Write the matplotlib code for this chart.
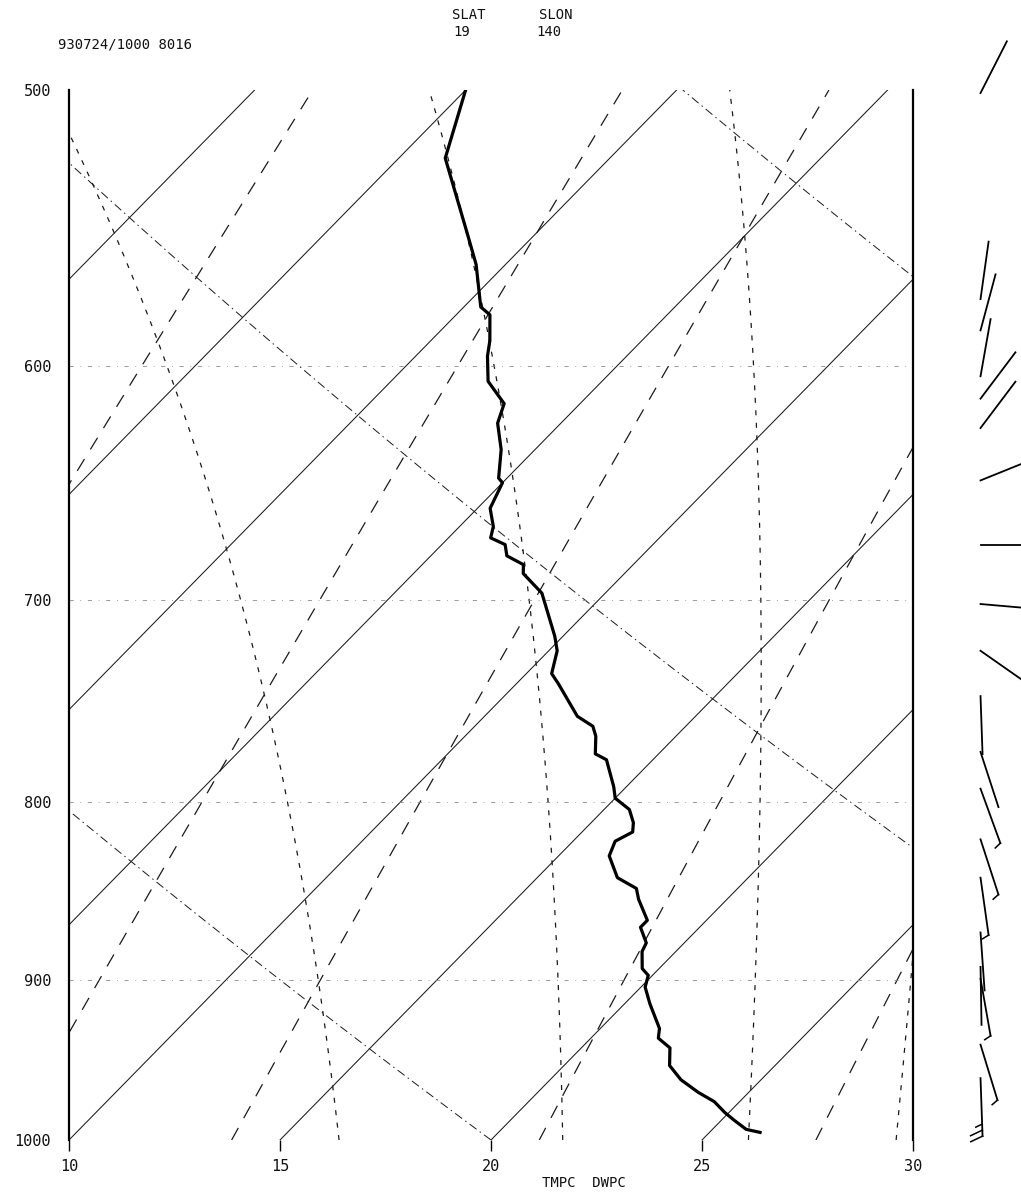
import numpy as np
import matplotlib
matplotlib.use("Agg")
import matplotlib.pyplot as plt

# --- sounding 930724/1000, station 8016 (temperature, deg C) ---
pres = [500, 523, 550, 561, 577, 580, 590, 596, 606, 613, 615, 623, 634, 646, 648,
        659, 667, 672, 675, 680, 684, 688, 697, 717, 724, 735, 740, 756, 761, 766,
        775, 778, 792, 798, 804, 811, 816, 821, 829, 841, 847, 853, 865, 869, 878,
        883, 893, 897, 904, 914, 929, 935, 941, 952, 961, 969, 975, 982, 987, 993, 995]
temp = [-5.0, -3.9, -1.6, -0.7, 0.4, 0.8, 1.4, 1.7, 2.3, 3.0, 3.2, 3.5, 4.2, 4.8, 5.0,
        5.3, 5.8, 6.0, 6.5, 6.8, 7.4, 7.6, 8.5, 9.8, 10.2, 10.6, 11.0, 12.2, 12.8, 13.1,
        13.5, 13.9, 14.7, 15.0, 15.6, 16.0, 16.2, 16.0, 16.2, 16.9, 17.6, 17.9, 18.6, 18.6, 19.1,
        19.2, 19.6, 19.9, 20.1, 20.6, 21.4, 21.6, 22.1, 22.5, 23.1, 23.8, 24.4, 24.9, 25.3, 25.8, 26.2]

# wind barbs on the right: base pressure, direction (deg), speed
wind_p = [501, 574, 586, 604, 613, 625, 647, 675, 702, 724,
          746, 774, 793, 820, 841, 872, 892, 899, 939, 960]
wind_dir = [27, 8, 15, 10, 37, 37, 68, 90, 95, 125,
            178, 162, 160, 162, 172, 176, 179, 170, 163, 178]
wind_spd = [2, 2, 2, 2, 2, 2, 5, 2, 2, 5,
            2, 2, 5, 5, 5, 2, 2, 5, 5, 25]

# background lines
iso_t = list(range(-40, 45, 5))          # isotherms
dry_theta = [20, 40, 60]                  # dry adiabats, theta in C
moist_t1000 = [16.4, 21.7, 26.1, 29.6]    # moist adiabats, T at 1000 mb
mix_w = [4, 7, 10, 16, 24]                # mixing ratio lines, g/kg
isobars = [600, 700, 800, 900, 1000]

x_ticks = [10, 15, 20, 25, 30]
p_ticks = [500, 600, 700, 800, 900, 1000]

SKEW = 35.2


def skew_x(t, p):
    return np.asarray(t) + SKEW * np.log(1000.0 / np.asarray(p))


def sat_es(t):
    return 6.112 * np.exp(17.67 * t / (t + 243.5))


def theta_e(tc, p):
    # Bolton (1980) for a saturated parcel
    tk = tc + 273.15
    es = sat_es(tc)
    r = 622.0 * es / (p - es)
    return (tk * (1000.0 / p) ** (0.2854 * (1 - 0.28e-3 * r))
            * np.exp((3.376 / tk - 0.00254) * r * (1 + 0.81e-3 * r)))


def moist_adiabat(t0, p):
    target = theta_e(t0, 1000.0)
    lo = np.full_like(p, -60.0)
    hi = np.full_like(p, 40.0)
    for _ in range(50):
        mid = 0.5 * (lo + hi)
        above = theta_e(mid, p) > target
        hi = np.where(above, mid, hi)
        lo = np.where(above, lo, mid)
    return 0.5 * (lo + hi)


W, H = 1021, 1194
fig = plt.figure(figsize=(W / 100, H / 100), dpi=100)
ax = fig.add_axes([69 / W, 1 - 1140 / H, 844 / W, 1050 / H])
ax.set_yscale('log')
ax.set_xlim(10, 30)
ax.set_ylim(1000, 500)

pl = np.linspace(1000, 500, 401)
lc = '#1a1a1a'

for t in iso_t:
    ax.plot(skew_x(np.full_like(pl, t), pl), pl, color=lc, lw=0.75, ls='-')

for th in dry_theta:
    t = (th + 273.15) * (pl / 1000.0) ** 0.2857 - 273.15
    ax.plot(skew_x(t, pl), pl, color=lc, lw=0.7, ls=(0, (9, 4, 1.5, 4)))

for t0 in moist_t1000:
    t = moist_adiabat(t0, pl)
    ax.plot(skew_x(t, pl), pl, color=lc, lw=0.9, ls=(0, (4, 6)))

for w in mix_w:
    e = w * pl / (622.0 + w)
    a = np.log(e / 6.112)
    td = 243.5 * a / (17.67 - a)
    ax.plot(skew_x(td, pl), pl, color=lc, lw=0.9, ls=(0, (11, 9)))

for p in isobars:
    ax.plot([10, 30], [p, p], color='#8a8a8a', lw=0.6, ls=(0, (5, 8, 1, 8)))

ax.plot(skew_x(temp, pres), pres, color='black', lw=2.3, solid_joinstyle='round')

for s in ['top', 'bottom']:
    ax.spines[s].set_visible(False)
for s in ['left', 'right']:
    ax.spines[s].set_linewidth(1.6)

ax.set_xticks(x_ticks)
ax.set_xticklabels([str(v) for v in x_ticks])
ax.set_yticks(p_ticks)
ax.set_yticklabels([str(v) for v in p_ticks])
ax.yaxis.set_minor_locator(matplotlib.ticker.NullLocator())
ax.tick_params(axis='x', direction='out', length=8, width=1, pad=6, labelsize=11)
ax.tick_params(axis='y', length=0, pad=13, labelsize=11)
for lab in ax.get_xticklabels() + ax.get_yticklabels():
    lab.set_family('DejaVu Sans Mono')
    lab.set_color('#111111')

ax.set_xlabel('TMPC  DWPC', family='DejaVu Sans Mono', fontsize=10, color='#111111',
              labelpad=0)
ax.xaxis.set_label_coords(0.61, -0.034)

# header text
fig.text(58 / W, 1 - 44 / H, '930724/1000 8016', family='DejaVu Sans Mono', fontsize=10,
         color='#111111', va='center', ha='left')
fig.text(469 / W, 1 - 15 / H, 'SLAT', family='DejaVu Sans Mono', fontsize=10,
         color='#111111', va='center', ha='center')
fig.text(556 / W, 1 - 15 / H, 'SLON', family='DejaVu Sans Mono', fontsize=10,
         color='#111111', va='center', ha='center')
fig.text(462 / W, 1 - 32 / H, '19', family='DejaVu Sans Mono', fontsize=10,
         color='#111111', va='center', ha='center')
fig.text(549 / W, 1 - 32 / H, '140', family='DejaVu Sans Mono', fontsize=10,
         color='#111111', va='center', ha='center')

# wind barbs drawn in an overlay (pixel units)
ov = fig.add_axes([0, 0, 1, 1])
ov.set_xlim(0, W)
ov.set_ylim(0, H)
ov.axis('off')
ov.patch.set_alpha(0)

barb_x = 31.6
staff_len = 58
to_ov = ov.transData.inverted()
for p, d, s in zip(wind_p, wind_dir, wind_spd):
    bx, by = to_ov.transform(ax.transData.transform((barb_x, p)))
    ux, uy = np.sin(np.radians(d)), np.cos(np.radians(d))
    tx, ty = bx + staff_len * ux, by + staff_len * uy
    ov.plot([bx, tx], [by, ty], color='black', lw=1.3)
    rx, ry = uy, -ux
    fx, fy = 0.92 * rx + 0.4 * ux, 0.92 * ry + 0.4 * uy
    n_full, rem = divmod(s, 10)
    pos = 0
    for k in range(int(n_full)):
        sx, sy = tx - pos * ux, ty - pos * uy
        ov.plot([sx, sx + 13 * fx], [sy, sy + 13 * fy], color='black', lw=1.1)
        pos += 6
    if rem >= 5:
        sx, sy = tx - pos * ux, ty - pos * uy
        ov.plot([sx, sx + 7 * fx], [sy, sy + 7 * fy], color='black', lw=1.1)

fig.savefig('out.png', dpi=100, facecolor='white')
